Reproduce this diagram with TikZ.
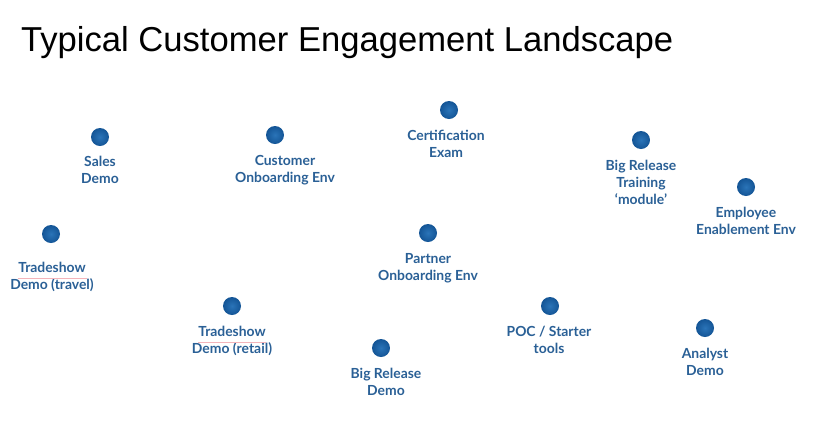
\documentclass[tikz,border=0pt]{standalone}
\usepackage{fontspec}
\setmainfont{Lato}
\newfontfamily\titlefont{Liberation Sans}
\definecolor{dotin}{HTML}{2A74B8}
\definecolor{dotout}{HTML}{145596}
\definecolor{txtblue}{HTML}{2A6096}
\definecolor{squiggle}{HTML}{F4B4BA}
\begin{document}
\begin{tikzpicture}[x=1pt,y=-1pt,
  dotnode/.style={circle,inner sep=0pt,minimum size=18pt,inner color=dotin,outer color=dotout,draw=none},
  label/.style={font=\fontsize{13.9}{17}\selectfont\bfseries,text=txtblue,align=center,inner sep=0pt,anchor=north}]
\useasboundingbox (0,0) rectangle (820,424);
\fill[white] (0,0) rectangle (820,424);
\node[anchor=base west,inner sep=0pt,font=\titlefont\fontsize{34.6}{40}\selectfont] (title) at (21,51) {Typical Customer Engagement Landscape};

\node[dotnode] (d1) at (100,137) {};
\node[label] (t1) at (100,156) {Sales\\Demo};
\node[dotnode] (d2) at (275,135) {};
\node[label] (t2) at (285,155) {Customer\\Onboarding Env};
\node[dotnode] (d3) at (449,110) {};
\node[label] (t3) at (446,130) {Certification\\Exam};
\node[dotnode] (d4) at (641,140) {};
\node[label] (t4) at (641,160) {Big Release\\Training\\`module'};
\node[dotnode] (d5) at (746,187) {};
\node[label] (t5) at (746,207) {Employee\\Enablement Env};
\node[dotnode] (d6) at (51,234) {};
\node[label] (t6) at (52,262) {Tradeshow\\Demo (travel)};
\node[dotnode] (d7) at (428,233) {};
\node[label] (t7) at (428,253) {Partner\\Onboarding Env};
\node[dotnode] (d8) at (232,306) {};
\node[label] (t8) at (232,326) {Tradeshow\\Demo (retail)};
\node[dotnode] (d9) at (381,348) {};
\node[label] (t9) at (386,368) {Big Release\\Demo};
\node[dotnode] (d10) at (550,306) {};
\node[label] (t10) at (549,326) {POC / Starter\\tools};
\node[dotnode] (d11) at (705,328) {};
\node[label] (t11) at (705,348) {Analyst\\Demo};

\draw[squiggle,line width=0.6pt] ([yshift=-1.6pt]t6.north west -| 18,0) ++(0,14.6) coordinate (s1) -- ++(69,0);
\draw[squiggle,line width=0.6pt] ([yshift=-1.6pt]t8.north west -| 198,0) ++(0,14.6) coordinate (s2) -- ++(68,0);
\end{tikzpicture}
\end{document}
